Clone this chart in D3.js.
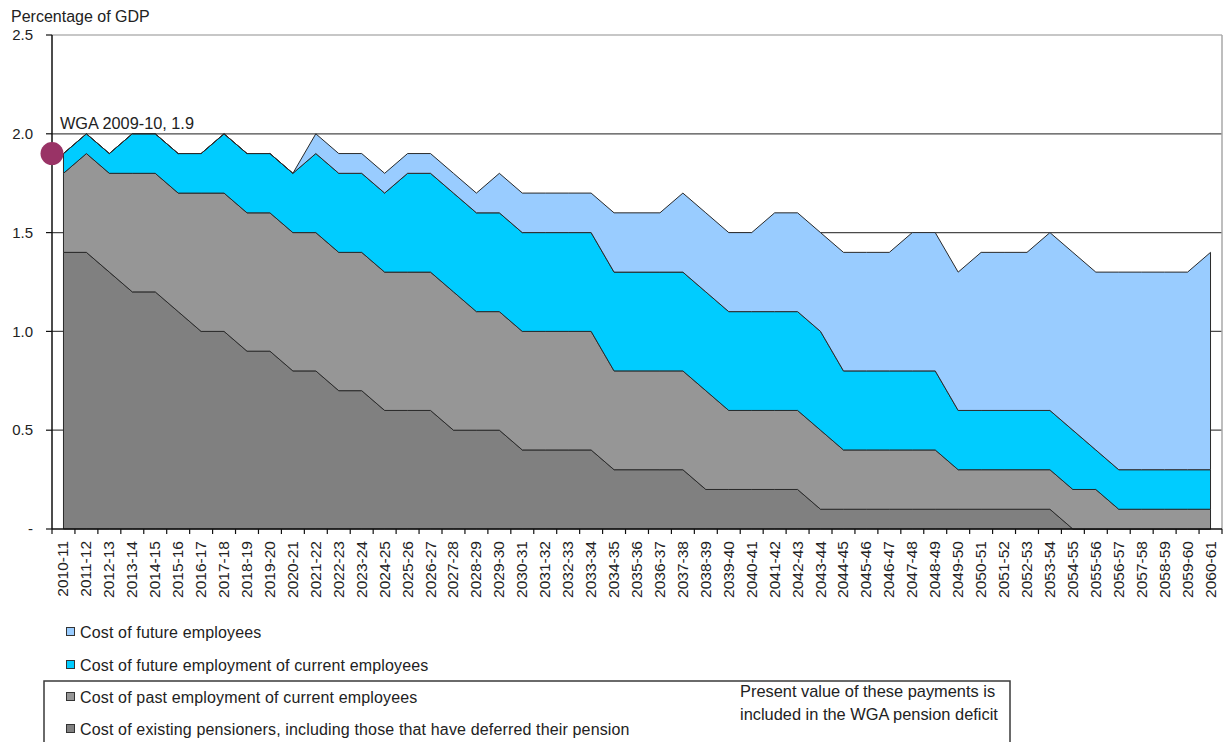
<!DOCTYPE html>
<html>
<head>
<meta charset="utf-8">
<script src="https://cdn.jsdelivr.net/npm/d3@7"></script>
<style>
  body { margin: 0; background: #fff; }
  svg { display: block; font-family: Arial, "Liberation Sans", sans-serif; }
</style>
</head>
<body>
<svg id="chart" width="1224" height="742"></svg>
<script>
// Financial years on the horizontal axis
const years = [
  "2010-11","2011-12","2012-13","2013-14","2014-15","2015-16","2016-17","2017-18","2018-19","2019-20",
  "2020-21","2021-22","2022-23","2023-24","2024-25","2025-26","2026-27","2027-28","2028-29","2029-30",
  "2030-31","2031-32","2032-33","2033-34","2034-35","2035-36","2036-37","2037-38","2038-39","2039-40",
  "2040-41","2041-42","2042-43","2043-44","2044-45","2045-46","2046-47","2047-48","2048-49","2049-50",
  "2050-51","2051-52","2052-53","2053-54","2054-55","2055-56","2056-57","2057-58","2058-59","2059-60",
  "2060-61"
];

// Pension payments, percentage of GDP, per year (stacked bottom to top)
const existingPensioners = [
  1.4,1.4,1.3,1.2,1.2,1.1,1.0,1.0,0.9,0.9,
  0.8,0.8,0.7,0.7,0.6,0.6,0.6,0.5,0.5,0.5,
  0.4,0.4,0.4,0.4,0.3,0.3,0.3,0.3,0.2,0.2,
  0.2,0.2,0.2,0.1,0.1,0.1,0.1,0.1,0.1,0.1,
  0.1,0.1,0.1,0.1,0,0,0,0,0,0,
  0
];
const pastEmployment = [
  0.4,0.5,0.5,0.6,0.6,0.6,0.7,0.7,0.7,0.7,
  0.7,0.7,0.7,0.7,0.7,0.7,0.7,0.7,0.6,0.6,
  0.6,0.6,0.6,0.6,0.5,0.5,0.5,0.5,0.5,0.4,
  0.4,0.4,0.4,0.4,0.3,0.3,0.3,0.3,0.3,0.2,
  0.2,0.2,0.2,0.2,0.2,0.2,0.1,0.1,0.1,0.1,
  0.1
];
const futureEmploymentOfCurrent = [
  0.1,0.1,0.1,0.2,0.2,0.2,0.2,0.3,0.3,0.3,
  0.3,0.4,0.4,0.4,0.4,0.5,0.5,0.5,0.5,0.5,
  0.5,0.5,0.5,0.5,0.5,0.5,0.5,0.5,0.5,0.5,
  0.5,0.5,0.5,0.5,0.4,0.4,0.4,0.4,0.4,0.3,
  0.3,0.3,0.3,0.3,0.3,0.2,0.2,0.2,0.2,0.2,
  0.2
];
const futureEmployees = [
  0,0,0,0,0,0,0,0,0,0,
  0,0.1,0.1,0.1,0.1,0.1,0.1,0.1,0.1,0.2,
  0.2,0.2,0.2,0.2,0.3,0.3,0.3,0.4,0.4,0.4,
  0.4,0.5,0.5,0.5,0.6,0.6,0.6,0.7,0.7,0.7,
  0.8,0.8,0.8,0.9,0.9,0.9,1.0,1.0,1.0,1.0,
  1.1
];

// Value axis
const yTicks = [0, 0.5, 1.0, 1.5, 2.0, 2.5];
const yTickLabels = ["-", "0.5", "1.0", "1.5", "2.0", "2.5"];
const yTitle = "Percentage of GDP";

// Reference point: WGA figure for 2009-10
const wgaName = "WGA 2009-10";
const wgaValue = 1.9;

// Series names, listed top of stack first as in the key
const seriesNames = [
  "Cost of future employees",
  "Cost of future employment of current employees",
  "Cost of past employment of current employees",
  "Cost of existing pensioners, including those that have deferred their pension"
];
const boxNote = ["Present value of these payments is", "included in the WGA pension deficit"];

// ---------------------------------------------------------------
const keys = ["pensioners", "past", "futureCurrent", "futureEmp"];
const colors = {
  pensioners: "#808080",
  past: "#969696",
  futureCurrent: "#00ccff",
  futureEmp: "#99ccff"
};
const seriesByKey = {
  pensioners: existingPensioners,
  past: pastEmployment,
  futureCurrent: futureEmploymentOfCurrent,
  futureEmp: futureEmployees
};
const nameByKey = {
  futureEmp: seriesNames[0],
  futureCurrent: seriesNames[1],
  past: seriesNames[2],
  pensioners: seriesNames[3]
};

const rows = years.map((yr, i) => {
  const r = { year: yr };
  keys.forEach(k => r[k] = seriesByKey[k][i]);
  return r;
});

const svg = d3.select("#chart");
const plot = { left: 52, right: 1222, top: 35, bottom: 529 };

const x = d3.scaleBand().domain(years).range([plot.left, plot.right]).paddingInner(0).paddingOuter(0);
const bw = x.bandwidth();
const xc = d => x(d) + bw / 2;
const y = d3.scaleLinear().domain([0, 2.5]).range([plot.bottom, plot.top]);

// Gridlines
svg.append("g").selectAll("line")
  .data(yTicks.filter(t => t > 0 && t < 2.5))
  .join("line")
  .attr("x1", plot.left).attr("x2", plot.right)
  .attr("y1", d => y(d)).attr("y2", d => y(d))
  .attr("stroke", "#4a4a4a").attr("stroke-width", 1.2);

// Plot frame (top and right)
svg.append("line")
  .attr("x1", plot.left).attr("x2", plot.right)
  .attr("y1", y(2.5)).attr("y2", y(2.5))
  .attr("stroke", "#b4b4b4").attr("stroke-width", 1.5);
svg.append("line")
  .attr("x1", plot.right).attr("x2", plot.right)
  .attr("y1", y(2.5)).attr("y2", y(0))
  .attr("stroke", "#a8a8a8").attr("stroke-width", 1.5);

// Stacked areas
const stacked = d3.stack().keys(keys).order(d3.stackOrderNone).offset(d3.stackOffsetNone)(rows);
const area = d3.area()
  .x(d => xc(d.data.year))
  .y0(d => y(d[0]))
  .y1(d => y(d[1]));

svg.append("g").selectAll("path")
  .data(stacked)
  .join("path")
  .attr("d", s => area(s) + "")
  .attr("fill", s => colors[s.key])
  .attr("stroke", "#2a2a2a")
  .attr("stroke-width", 1)
  .attr("stroke-linejoin", "round");

// Y axis
const yAxis = svg.append("g");
yAxis.append("line")
  .attr("x1", plot.left).attr("x2", plot.left)
  .attr("y1", y(2.5)).attr("y2", y(0))
  .attr("stroke", "#111").attr("stroke-width", 1.5);
yAxis.selectAll("line.tick")
  .data(yTicks)
  .join("line")
  .attr("class", "tick")
  .attr("x1", plot.left - 6).attr("x2", plot.left)
  .attr("y1", d => y(d)).attr("y2", d => y(d))
  .attr("stroke", "#111").attr("stroke-width", 1.2);
yAxis.selectAll("text")
  .data(yTicks)
  .join("text")
  .attr("x", 33).attr("y", d => y(d))
  .attr("dy", "0.35em")
  .attr("text-anchor", "end")
  .attr("font-size", 15)
  .attr("fill", "#222")
  .text((d, i) => yTickLabels[i]);

svg.append("text")
  .attr("x", 11).attr("y", 22)
  .attr("font-size", 16)
  .attr("fill", "#222")
  .text(yTitle);

// X axis
const xAxis = svg.append("g");
xAxis.append("line")
  .attr("x1", plot.left).attr("x2", plot.right)
  .attr("y1", plot.bottom).attr("y2", plot.bottom)
  .attr("stroke", "#111").attr("stroke-width", 1.5);
const bounds = years.map(d => x(d)).concat([plot.right]);
xAxis.selectAll("line.tick")
  .data(bounds)
  .join("line")
  .attr("class", "tick")
  .attr("x1", d => d).attr("x2", d => d)
  .attr("y1", plot.bottom).attr("y2", plot.bottom + 5)
  .attr("stroke", "#111").attr("stroke-width", 1.2);
xAxis.selectAll("text")
  .data(years)
  .join("text")
  .attr("transform", d => `translate(${xc(d) + 5},${plot.bottom + 12}) rotate(-90)`)
  .attr("text-anchor", "end")
  .attr("font-size", 15.5)
  .attr("fill", "#222")
  .text(d => d);

// WGA 2009-10 reference marker on the value axis
svg.append("circle")
  .attr("cx", plot.left).attr("cy", y(wgaValue))
  .attr("r", 11.5)
  .attr("fill", "#993366");
svg.append("text")
  .attr("x", 60).attr("y", y(wgaValue) - 25)
  .attr("font-size", 16.3)
  .attr("fill", "#222")
  .text(`${wgaName}, ${wgaValue}`);

// Key
const legendOrder = ["futureEmp", "futureCurrent", "past", "pensioners"];
const legendY = [632, 665, 697, 729];

svg.append("rect")
  .attr("x", 44).attr("y", 681)
  .attr("width", 966).attr("height", 80)
  .attr("fill", "none")
  .attr("stroke", "#3a3a3a").attr("stroke-width", 1.5);

const lg = svg.append("g").selectAll("g")
  .data(legendOrder)
  .join("g")
  .attr("transform", (d, i) => `translate(66,${legendY[i]})`);
lg.append("rect")
  .attr("x", 0.5).attr("y", -4.5)
  .attr("width", 8).attr("height", 8)
  .attr("fill", d => colors[d])
  .attr("stroke", "#333").attr("stroke-width", 1);
lg.append("text")
  .attr("x", 14).attr("y", 0)
  .attr("dy", "0.35em")
  .attr("font-size", 16)
  .attr("letter-spacing", 0.15)
  .attr("fill", "#222")
  .text(d => nameByKey[d]);

svg.append("g").selectAll("text")
  .data(boxNote)
  .join("text")
  .attr("x", 740).attr("y", (d, i) => 697 + i * 23)
  .attr("font-size", 16.4)
  .attr("fill", "#222")
  .text(d => d);
</script>
</body>
</html>
